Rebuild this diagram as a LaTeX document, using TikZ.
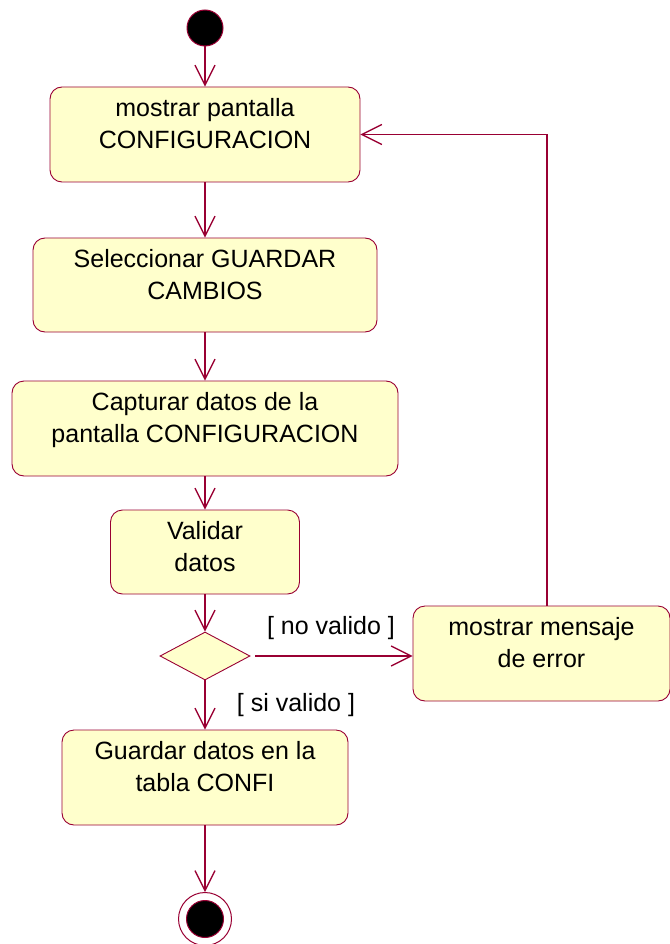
\documentclass[tikz,border=0pt]{standalone}
\usepackage{fontspec}
\setmainfont{Liberation Sans}
\usetikzlibrary{arrows.meta,shapes.geometric}
\definecolor{umlred}{HTML}{990033}
\definecolor{umlfill}{HTML}{FFFFCC}

\begin{document}
\begin{tikzpicture}[x=1pt, y=-1pt, every node/.style={font=\fontsize{25}{32}\selectfont},
    act/.style={draw=umlred, fill=umlfill, line width=0.9pt, rounded corners=12pt, align=center, inner sep=0pt},
    flow/.style={draw=umlred, line width=1.3pt, -{Straight Barb[length=20pt,width=20pt]}}]
      \useasboundingbox (0,0) rectangle (669,944);

      % Start
      \node[circle, draw=umlred, fill=black, line width=1pt, minimum size=36pt, inner sep=0pt] (start) at (205,28) {};

      % Activities
      \node[act, minimum width=310pt, minimum height=95pt] (show) at (205,134.5) {mostrar pantalla\\CONFIGURACION\\[-10pt]\mbox{}};
      \node[act, minimum width=344pt, minimum height=94pt] (select) at (205,285) {Seleccionar GUARDAR\\CAMBIOS\\[-10pt]\mbox{}};
      \node[act, minimum width=386pt, minimum height=95pt] (capture) at (205,428.5) {Capturar datos de la\\pantalla CONFIGURACION\\[-10pt]\mbox{}};
      \node[act, minimum width=189pt, minimum height=84pt] (check) at (205,552) {Validar\\datos\\[-20pt]\mbox{}};

      % Decision
      \node[diamond, draw=umlred, fill=umlfill, line width=0.9pt, minimum width=90pt, minimum height=48pt, inner sep=0pt] (dec) at (205,656) {};

      % Error message
      \node[act, minimum width=257pt, minimum height=95pt] (err) at (541.5,653.5) {mostrar mensaje\\de error\\[-10pt]\mbox{}};

      % Save
      \node[act, minimum width=286pt, minimum height=95pt] (save) at (205,777.5) {Guardar datos en la\\tabla CONFI\\[-10pt]\mbox{}};

      % End
      \node[circle, draw=umlred, fill=white, line width=1pt, minimum size=53pt, inner sep=0pt] (stop) at (205,919) {};
      \node[circle, draw=umlred, fill=black, line width=1pt, minimum size=37pt, inner sep=0pt] (stopdot) at (stop) {};

      % Arrows
      \draw[flow] (start) -- (show);
      \draw[flow] (show) -- (select);
      \draw[flow] (select) -- (capture);
      \draw[flow] (capture) -- (check);
      \draw[flow] (check) -- (dec);
      \draw[flow] ([xshift=5pt]dec.east) -- (err.west |- dec.east);
      \draw[flow] ([xshift=5.5pt]err.north) |- (show.east);
      \draw[flow] (dec) -- (save);
      \draw[flow] (save) -- (stop);

      % Guards
      \node (nolab) at (331,628) {[ no valido ]};
      \node (silab) at (296,705) {[ si valido ]};
    \end{tikzpicture}
\end{document}
